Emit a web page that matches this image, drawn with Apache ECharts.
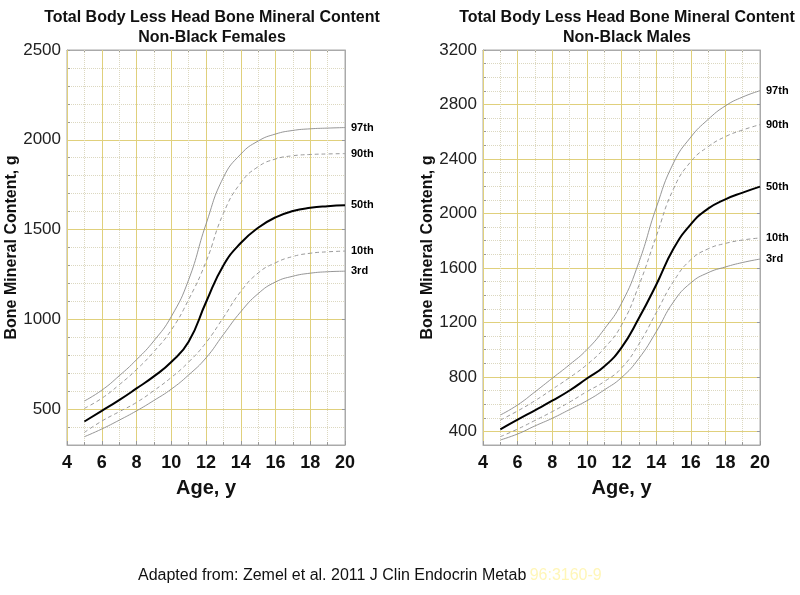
<!DOCTYPE html>
<html>
<head>
<meta charset="utf-8">
<script src="https://cdn.jsdelivr.net/npm/echarts@6/dist/echarts.min.js"></script>
<style>html,body{margin:0;padding:0;background:#fff;}#c{width:800px;height:595px;}</style>
</head>
<body>
<div id="c"></div>
<script>
// ---- data ----
const ages = [5, 6, 7, 8, 9, 10, 11, 12, 13, 14, 15, 16, 17, 18, 19, 20];
const percentileNames = ['97th', '90th', '50th', '10th', '3rd'];

const femaleP97 = [545, 605, 685, 775, 880, 1015, 1220, 1530, 1790, 1920, 1993, 2032, 2052, 2061, 2065, 2068];
const femaleP90 = [504, 560, 635, 720, 820, 940, 1110, 1320, 1590, 1760, 1850, 1893, 1911, 1918, 1921, 1923];
const femaleP50 = [431, 490, 550, 615, 682, 762, 875, 1095, 1300, 1425, 1510, 1568, 1603, 1621, 1630, 1635];
const femaleP10 = [370, 433, 485, 537, 603, 676, 762, 870, 1010, 1155, 1258, 1315, 1350, 1368, 1376, 1380];
const femaleP3  = [346, 389, 438, 490, 548, 611, 690, 785, 915, 1042, 1143, 1208, 1240, 1257, 1265, 1268];

const maleP97 = [520, 594, 690, 790, 890, 1000, 1150, 1340, 1640, 2040, 2370, 2560, 2690, 2790, 2855, 2901];
const maleP90 = [483, 550, 625, 709, 795, 890, 1010, 1180, 1470, 1830, 2180, 2380, 2490, 2564, 2613, 2652];
const maleP50 = [415, 486, 555, 625, 700, 788, 877, 1015, 1230, 1475, 1740, 1920, 2035, 2104, 2153, 2197];
const maleP10 = [361, 417, 480, 545, 615, 692, 765, 865, 1040, 1270, 1500, 1660, 1740, 1780, 1805, 1820];
const maleP3  = [337, 381, 440, 496, 560, 625, 704, 795, 935, 1130, 1350, 1490, 1565, 1607, 1640, 1665];

const femaleYTicks = { min: 300, max: 2500, step: 100, major: 500 };
const maleYTicks = { min: 300, max: 3200, step: 100, major: 400 };
const femaleMajorY = [500, 1000, 1500, 2000];
const maleMajorY = [400, 800, 1200, 1600, 2000, 2400, 2800];
const xTicks = { min: 4, max: 20, step: 2 };

const titles = [
  'Total Body Less Head Bone Mineral Content\nNon-Black Females',
  'Total Body Less Head Bone Mineral Content\nNon-Black Males'
];
const xName = 'Age, y';
const yName = 'Bone Mineral Content, g';
const caption = 'Adapted from: Zemel et al. 2011 J Clin Endocrin Metab';
const captionRef = '96:3160-9';

// ---- styles ----
const FONT = 'Liberation Sans, Arial, sans-serif';
const MAJOR = '#e0d07c';
const MINOR = '#dcd8c0';
const FRAME = '#aaaaaa';

const grids = [
  { left: 67, top: 50, width: 278, height: 395, show: true, borderColor: FRAME, borderWidth: 1 },
  { left: 483, top: 50, width: 277, height: 395, show: true, borderColor: FRAME, borderWidth: 1 }
];

function xAxes(gi) {
  const base = {
    type: 'value', gridIndex: gi, min: xTicks.min, max: xTicks.max, interval: xTicks.step,
    axisLine: { show: true, lineStyle: { color: FRAME } },
    axisTick: { show: true, inside: true, length: 4, lineStyle: { color: '#999' } },
    minorTick: { show: true, splitNumber: 2, length: 3, lineStyle: { color: '#999' } }
  };
  return [
    Object.assign({}, base, {
      position: 'bottom', z: 1,
      axisLabel: { show: true, fontFamily: FONT, fontSize: 18, fontWeight: 'bold', color: '#111', margin: 9 },
      splitLine: { show: true, lineStyle: { color: MAJOR, width: 1 } },
      minorSplitLine: { show: true, lineStyle: { color: MINOR, type: 'dotted', width: 1 } },
      name: xName, nameLocation: 'middle', nameGap: 33,
      nameTextStyle: { fontFamily: FONT, fontSize: 20, fontWeight: 'bold', color: '#111' }
    }),
    Object.assign({}, base, {
      position: 'top', axisLabel: { show: false }, splitLine: { show: false }
    })
  ];
}

function yAxes(gi, t, majors) {
  const base = {
    type: 'value', gridIndex: gi, min: t.min, max: t.max, interval: t.step,
    axisLine: { show: true, lineStyle: { color: FRAME } }
  };
  return [
    Object.assign({}, base, {
      position: 'left', z: 0,
      axisTick: { show: true, inside: true, length: 3, lineStyle: { color: '#999' } },
      axisLabel: {
        show: true, fontFamily: FONT, fontSize: 17, color: '#222', margin: 6,
        formatter: v => (v % t.major === 0 ? String(v) : '')
      },
      splitLine: { show: true, lineStyle: { color: MINOR, type: 'dotted', width: 1 } },
      name: yName, nameLocation: 'middle', nameGap: 41, nameRotate: 90,
      nameTextStyle: { fontFamily: FONT, fontSize: 16, fontWeight: 'bold', color: '#111' }
    }),
    Object.assign({}, base, {
      position: 'right', z: 1,
      axisTick: { show: true, inside: true, length: 3, lineStyle: { color: '#999' }, customValues: majors },
      axisLabel: { show: false },
      splitLine: { show: true, lineStyle: { color: MAJOR, type: 'solid', width: 1 } }
    })
  ];
}

const lineStyles = {
  '97th': { color: '#8a8a8a', width: 0.9, type: 'solid' },
  '90th': { color: '#9a9a9a', width: 1, type: [4, 3] },
  '50th': { color: '#000000', width: 2, type: 'solid' },
  '10th': { color: '#9a9a9a', width: 1, type: [4, 3] },
  '3rd':  { color: '#8a8a8a', width: 0.9, type: 'solid' }
};

function makeSeries(xi, yi, arrays) {
  return arrays.map((arr, k) => {
    const name = percentileNames[k];
    return {
      type: 'line', name: name, xAxisIndex: xi, yAxisIndex: yi,
      data: ages.map((a, i) => [a, arr[i]]),
      smooth: 0.5, showSymbol: false, symbol: 'none',
      lineStyle: lineStyles[name], color: lineStyles[name].color,
      silent: true, z: 3,
      endLabel: { show: true, formatter: '{a}', distance: 6, fontFamily: FONT, fontSize: 11, fontWeight: 'bold', color: '#000' }
    };
  });
}

const option = {
  animation: false,
  backgroundColor: '#ffffff',
  title: [
    { text: titles[0], left: 207, top: 3, textAlign: 'center',
      textStyle: { fontFamily: FONT, fontSize: 16, fontWeight: 'bold', color: '#111', lineHeight: 20 } },
    { text: titles[1], left: 622, top: 3, textAlign: 'center',
      textStyle: { fontFamily: FONT, fontSize: 16, fontWeight: 'bold', color: '#111', lineHeight: 20 } }
  ],
  grid: grids,
  xAxis: [].concat(xAxes(0), xAxes(1)),
  yAxis: [].concat(yAxes(0, femaleYTicks, femaleMajorY), yAxes(1, maleYTicks, maleMajorY)),
  series: [].concat(
    makeSeries(0, 0, [femaleP97, femaleP90, femaleP50, femaleP10, femaleP3]),
    makeSeries(2, 2, [maleP97, maleP90, maleP50, maleP10, maleP3])
  ),
  graphic: [{
    type: 'text', left: 138, top: 568,
    style: {
      text: '{a|' + caption + '} {b|' + captionRef + '}',
      rich: {
        a: { fontFamily: FONT, fontSize: 16, fill: '#111' },
        b: { fontFamily: FONT, fontSize: 16, fill: '#fff6b8' }
      }
    }
  }]
};

const chart = echarts.init(document.getElementById('c'), null, { renderer: 'canvas' });
chart.setOption(option);
</script>
</body>
</html>
